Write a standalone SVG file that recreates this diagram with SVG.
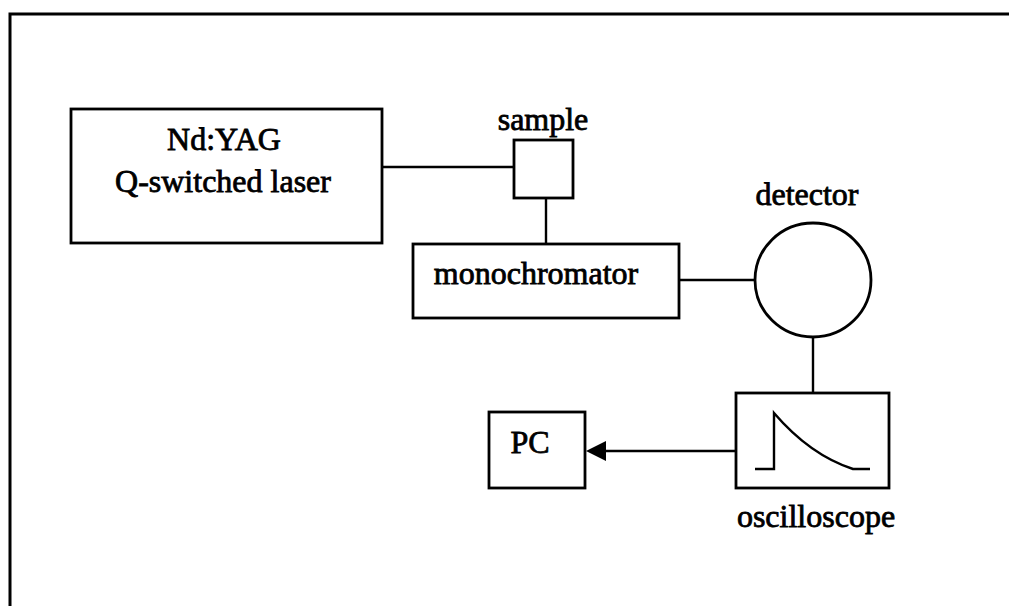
<svg xmlns="http://www.w3.org/2000/svg" width="1009" height="606" viewBox="0 0 1009 606">
<style>
.box{fill:none;stroke:#000;stroke-width:2.8}
.ln{fill:none;stroke:#000;stroke-width:2.4}
.t{font-family:"Liberation Serif","Times New Roman",serif;font-size:32px;fill:#000;stroke:#000;stroke-width:0.8;text-anchor:middle}
</style>
<rect width="1009" height="606" fill="#fff"/>
<path d="M10,606 L10,14 L1009,14" fill="none" stroke="#000" stroke-width="3"/>
<g id="connectors">
<line class="ln" x1="382" y1="167" x2="514" y2="167"/>
<line class="ln" x1="546" y1="198" x2="546" y2="244"/>
<line class="ln" x1="679" y1="280" x2="755" y2="280"/>
<line class="ln" x1="813" y1="337" x2="813" y2="393"/>
<line class="ln" x1="736" y1="451" x2="604" y2="451"/>
<path d="M586,451 L606,441 L606,461 Z" fill="#000"/>
</g>
<g id="laser">
<rect class="box" x="71" y="109" width="311" height="134"/>
<text class="t" x="224" y="150">Nd:YAG</text>
<text class="t" x="223" y="192">Q-switched laser</text>
</g>
<g id="sample">
<rect class="box" x="514" y="140" width="59" height="58"/>
<text class="t" x="543" y="130">sample</text>
</g>
<g id="monochromator">
<rect class="box" x="413" y="244" width="266" height="74"/>
<text class="t" x="536" y="284">monochromator</text>
</g>
<g id="detector">
<ellipse class="box" cx="813" cy="280" rx="58" ry="57"/>
<text class="t" x="807" y="205">detector</text>
</g>
<g id="oscilloscope">
<rect class="box" x="736" y="393" width="153" height="95"/>
<path class="ln" d="M755,469 L774,469 L774,413 Q810,455 853,469 L870,469"/>
<text class="t" x="816" y="527">oscilloscope</text>
</g>
<g id="pc">
<rect class="box" x="489" y="412" width="96" height="76"/>
<text class="t" x="530" y="453">PC</text>
</g>
</svg>
